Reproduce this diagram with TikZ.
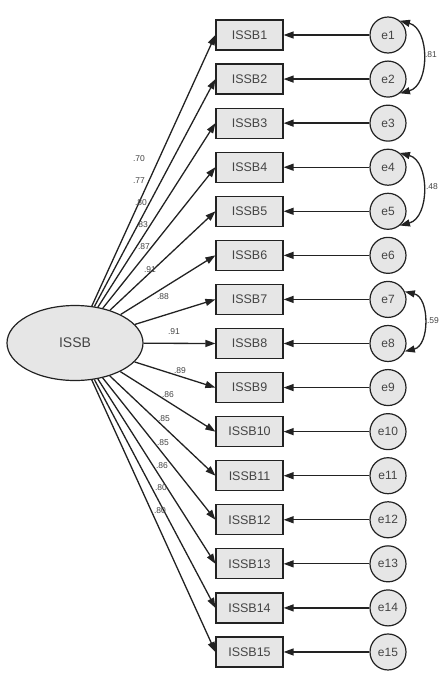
\documentclass[tikz,border=0pt]{standalone}
\usepackage{fontspec}
\setmainfont{Liberation Sans}
\usetikzlibrary{arrows.meta,shapes.geometric}
\definecolor{boxfill}{HTML}{E6E6E6}
\definecolor{edge}{HTML}{222222}
\definecolor{txt}{HTML}{444444}
\tikzset{
  obs/.style={draw=edge, fill=boxfill, line width=1.2pt, minimum width=67pt, minimum height=30pt, inner sep=0pt, font=\fontsize{12.5}{13}\selectfont, text=txt},
  err/.style={draw=edge, fill=boxfill, circle, line width=1.2pt, minimum size=36pt, inner sep=0pt, font=\fontsize{12}{13}\selectfont, text=txt},
  lat/.style={draw=edge, fill=boxfill, ellipse, line width=1.2pt, minimum width=136pt, minimum height=75pt, inner sep=0pt, font=\fontsize{14}{15}\selectfont, text=txt},
  path/.style={draw=edge, line width=1.3pt, -{Triangle[length=10pt,width=7pt]}},
  cov/.style={draw=edge, line width=1.3pt, {Triangle[length=10pt,width=7pt]}-{Triangle[length=10pt,width=7pt]}},
  est/.style={font=\fontsize{8.5}{9}\selectfont, text=txt, inner sep=0pt}
}
\begin{document}
\begin{tikzpicture}[x=1pt,y=-1pt]
\useasboundingbox (0,0) rectangle (440,675);
\node[lat] (F) at (75,343) {ISSB};
\foreach \i in {1,...,15}{
  \pgfmathsetmacro{\yy}{35+44.07*(\i-1)}
  \node[obs] (b\i) at (249.5,\yy) {ISSB\i};
  \node[err] (e\i) at (388,\yy) {e\i};
  \draw[path] (F) -- (b\i.west);
  \draw[path] (e\i.west) -- (b\i.east);
}
\foreach \i/\x/\y/\v in {1/139/159/.70, 2/139/181/.77, 3/141/203/.80, 4/142/225/.83, 5/144/247/.87, 6/150/270/.91, 7/163/297/.88, 8/174/332/.91, 9/180/371/.89, 10/168/395/.86, 11/164/419/.85, 12/163/443/.85, 13/162/466/.86, 14/161/488/.80, 15/160/511/.80}{
  \node[est] (L\i) at (\x,\y) {\v};
}
\draw[cov] (e1.50) .. controls +(30,8) and +(30,-8) .. (e2.-50);
\draw[cov] (e4.50) .. controls +(30,8) and +(30,-8) .. (e5.-50);
\draw[cov] (e7.25) .. controls +(25,6) and +(25,-6) .. (e8.-25);
\node[est] (c12) at (431,55) {.81};
\node[est] (c45) at (432,187) {.48};
\node[est] (c78) at (433,321) {.59};
\end{tikzpicture}
\end{document}
